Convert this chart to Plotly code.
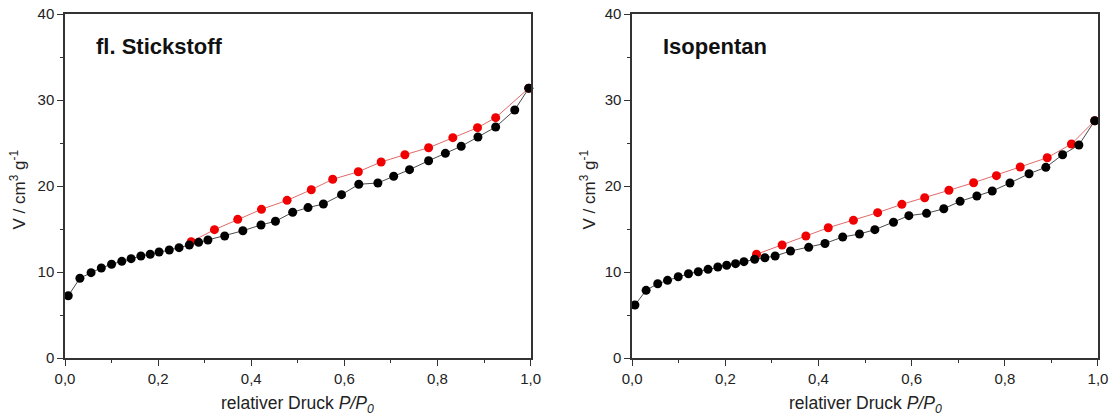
import plotly.graph_objects as go

# ---- Panel 1: fl. Stickstoff ----
n2_ads_x = [0.007, 0.032, 0.056, 0.078, 0.100, 0.122, 0.142, 0.163, 0.183, 0.202,
            0.224, 0.245, 0.267, 0.287, 0.307, 0.343, 0.382, 0.421, 0.452, 0.489,
            0.522, 0.555, 0.594, 0.631, 0.672, 0.706, 0.740, 0.781, 0.817, 0.851,
            0.887, 0.925, 0.966, 0.996]
n2_ads_y = [7.24, 9.27, 9.92, 10.47, 10.90, 11.24, 11.55, 11.86, 12.06, 12.33,
            12.56, 12.83, 13.14, 13.45, 13.72, 14.19, 14.80, 15.47, 15.90, 16.95,
            17.49, 17.91, 18.99, 20.20, 20.35, 21.13, 21.90, 22.94, 23.80, 24.62,
            25.70, 26.86, 28.84, 31.36]
n2_des_x = [0.996, 0.925, 0.886, 0.833, 0.781, 0.730, 0.679, 0.630, 0.575, 0.529,
            0.477, 0.422, 0.371, 0.321, 0.271]
n2_des_y = [31.36, 27.95, 26.78, 25.62, 24.45, 23.64, 22.79, 21.66, 20.78, 19.57,
            18.33, 17.29, 16.12, 14.92, 13.53]

# ---- Panel 2: Isopentan ----
ip_ads_x = [0.006, 0.030, 0.055, 0.076, 0.099, 0.121, 0.142, 0.163, 0.184, 0.203,
            0.222, 0.240, 0.263, 0.285, 0.307, 0.340, 0.379, 0.414, 0.452, 0.488,
            0.521, 0.561, 0.594, 0.632, 0.669, 0.704, 0.740, 0.773, 0.811, 0.852,
            0.888, 0.924, 0.959, 0.993]
ip_ads_y = [6.16, 7.87, 8.64, 9.03, 9.45, 9.80, 10.03, 10.31, 10.58, 10.78,
            10.97, 11.20, 11.48, 11.66, 11.86, 12.44, 12.87, 13.32, 14.07, 14.42,
            14.92, 15.78, 16.55, 16.82, 17.36, 18.22, 18.84, 19.42, 20.35, 21.43,
            22.17, 23.64, 24.77, 27.59]
ip_des_x = [0.993, 0.943, 0.891, 0.833, 0.782, 0.733, 0.680, 0.628, 0.579, 0.527,
            0.475, 0.421, 0.373, 0.322, 0.267]
ip_des_y = [27.59, 24.88, 23.29, 22.21, 21.20, 20.38, 19.50, 18.64, 17.87, 16.90,
            16.01, 15.15, 14.19, 13.14, 12.06]

panel_titles = ["fl. Stickstoff", "Isopentan"]
x_ticks = [0, 0.2, 0.4, 0.6, 0.8, 1.0]
y_ticks = [0, 10, 20, 30, 40]

FONT = "Liberation Sans, Arial, sans-serif"
AX = "#333333"
BLACK_LINE = "#4a4a4a"
RED_LINE = "#e06a6a"
RED = "#f00000"

fig = go.Figure()

panels = [
    (n2_ads_x, n2_ads_y, n2_des_x, n2_des_y, "x", "y"),
    (ip_ads_x, ip_ads_y, ip_des_x, ip_des_y, "x2", "y2"),
]
for ax_x, ax_y, de_x, de_y, xa, ya in panels:
    fig.add_trace(go.Scatter(x=de_x, y=de_y, mode="lines+markers", xaxis=xa, yaxis=ya,
                             line=dict(color=RED_LINE, width=1),
                             marker=dict(color=RED, size=9, line=dict(width=0)),
                             cliponaxis=False, showlegend=False))
    fig.add_trace(go.Scatter(x=ax_x, y=ax_y, mode="lines+markers", xaxis=xa, yaxis=ya,
                             line=dict(color=BLACK_LINE, width=1),
                             marker=dict(color="#000000", size=9, line=dict(width=0)),
                             cliponaxis=False, showlegend=False))

def xax(domain, anchor):
    return dict(domain=domain, anchor=anchor, range=[0, 1], tickvals=x_ticks,
                tickformat=".1f", ticks="outside", ticklen=6, tickwidth=1.3,
                tickcolor=AX, showline=True, linecolor=AX, linewidth=1.5,
                mirror=True, showgrid=False, zeroline=False, automargin=False,
                tickfont=dict(family=FONT, size=15, color="#222222"),
                minor=dict(ticks="outside", ticklen=3, tickwidth=1.2, tickcolor=AX,
                           dtick=0.1, showgrid=False))

def yax(anchor):
    return dict(anchor=anchor, domain=[0, 1], range=[0, 40], tickvals=y_ticks,
                ticks="outside", ticklen=6, tickwidth=1.3, tickcolor=AX,
                showline=True, linecolor=AX, linewidth=1.5, mirror=True,
                showgrid=False, zeroline=False, automargin=False,
                tickfont=dict(family=FONT, size=15, color="#222222"),
                minor=dict(ticks="outside", ticklen=3, tickwidth=1.2, tickcolor=AX,
                           dtick=5, showgrid=False))

d1 = [0.0, 0.4507]
d2 = [0.549, 1.0]

fig.update_layout(
    width=1114, height=416,
    margin=dict(l=65, r=16, t=14, b=58),
    plot_bgcolor="white", paper_bgcolor="white",
    separators=",.",
    xaxis=xax(d1, "y"), yaxis=yax("x"),
    xaxis2=xax(d2, "y2"), yaxis2=yax("x2"),
)

ann = []
for i, (xa, ya, dom) in enumerate([("x", "y", d1), ("x2", "y2", d2)]):
    ann.append(dict(x=0.063, y=36.2, xref=xa, yref=ya, text="<b>" + panel_titles[i] + "</b>",
                    showarrow=False, xanchor="left", yanchor="middle",
                    font=dict(family=FONT, size=22, color="#111111")))
    ann.append(dict(x=(dom[0] + dom[1]) / 2, y=-0.134, xref="paper", yref="paper",
                    text="relativer Druck <i>P/P</i><sub><i>0</i></sub>",
                    showarrow=False, xanchor="center", yanchor="middle",
                    font=dict(family=FONT, size=17.5, color="#222222")))
fig.add_annotation(x=-0.0455, y=0.49, xref="paper", yref="paper", textangle=-90,
                   text="V / cm<sup>3</sup> g<sup>-1</sup>", showarrow=False,
                   xanchor="center", yanchor="middle",
                   font=dict(family=FONT, size=17, color="#222222"))
fig.add_annotation(x=(588 - 65) / 1033.0, y=0.49, xref="paper", yref="paper", textangle=-90,
                   text="V / cm<sup>3</sup> g<sup>-1</sup>", showarrow=False,
                   xanchor="center", yanchor="middle",
                   font=dict(family=FONT, size=17, color="#222222"))
for a in ann:
    fig.add_annotation(**a)

fig.write_html("out.html", config={"displayModeBar": False},
               post_script="document.body.style.margin='0';document.body.style.overflow='hidden';")
